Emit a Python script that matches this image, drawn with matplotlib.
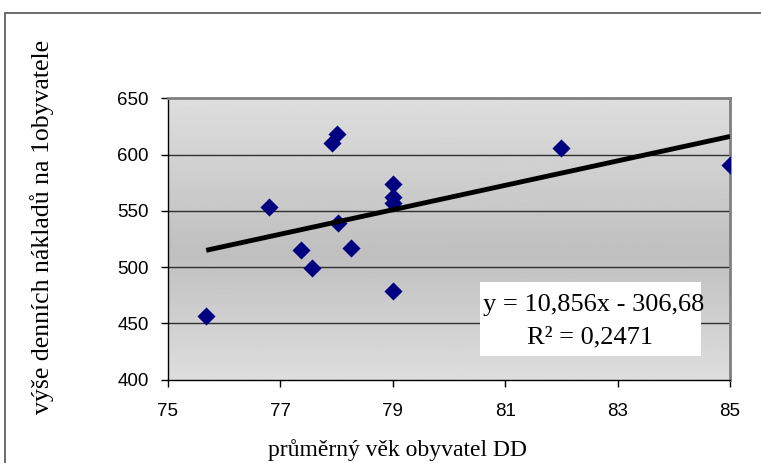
import matplotlib
matplotlib.use('Agg')
import matplotlib.pyplot as plt
import numpy as np
from matplotlib.patches import Rectangle

# data
vek = [75.68, 76.80, 77.36, 77.56, 77.92, 78.00, 78.02, 78.25,
       79.00, 79.00, 79.00, 79.00, 82.00, 85.00]
naklady = [456.5, 553.2, 515.5, 499.5, 610.6, 618.0, 539.5, 517.0,
           574.0, 562.6, 557.2, 478.8, 605.6, 590.7]
slope = 10.856
intercept = -306.68
eq_text = 'y = 10,856x - 306,68'
r2_text = 'R² = 0,2471'
x_ticks = [75, 77, 79, 81, 83, 85]
y_ticks = [400, 450, 500, 550, 600, 650]

fig = plt.figure(figsize=(7.61, 4.63), dpi=100)
ax = fig.add_axes([168/761, 83.4/463, 562/761, 281.3/463])

# outer chart border
fig.patches.append(Rectangle((5/761, -0.1), 1.2, (463-13)/463 + 0.1,
                             transform=fig.transFigure, fill=False,
                             edgecolor='#606060', linewidth=1.3))

# gradient background of plot area
grad = np.interp(np.linspace(0, 1, 256), [0, 0.55, 1], [0.87, 0.75, 0.87])
ax.imshow(grad[:, None], cmap='gray', vmin=0, vmax=1, aspect='auto',
          extent=[75, 85, 400, 650], zorder=0)

for yv in y_ticks[1:-1]:
    ax.axhline(yv, color='#303030', linewidth=1, zorder=1)

ax.scatter(vek, naklady, marker='D', s=85, color='#000080', zorder=3,
           linewidths=0)

xs = np.array([min(vek), max(vek)])
ax.plot(xs, slope * xs + intercept, color='black', linewidth=3.5,
        zorder=4, solid_capstyle='butt')

ax.set_xlim(75, 85)
ax.set_ylim(400, 650)
ax.set_xticks(x_ticks)
ax.set_yticks(y_ticks)
ax.tick_params(labelsize=13.5, length=5, width=1, direction='out')
ax.tick_params(axis='x', pad=12)
ax.tick_params(axis='y', pad=9)
for lab in ax.get_xticklabels() + ax.get_yticklabels():
    lab.set_family('Liberation Sans')

ax.spines['top'].set_color('#808080')
ax.spines['top'].set_linewidth(2)
ax.spines['right'].set_color('#808080')
ax.spines['right'].set_linewidth(2)
ax.spines['left'].set_linewidth(1)
ax.spines['bottom'].set_linewidth(1)

fig.text(398/761, 1 - 450/463, 'průměrný věk obyvatel DD', ha='center',
         va='center', fontsize=17, family='Liberation Serif')
fig.text(42/761, 1 - 227/463, 'výše denních nákladů na 1obyvatele',
         ha='center', va='center', rotation=90, fontsize=18.5,
         family='Liberation Serif')

fig.patches.append(Rectangle((480/761, 1 - 356/463), 221/761, 74/463,
                             transform=fig.transFigure, facecolor='white',
                             edgecolor='none', zorder=5))
fig.text(594/761, 1 - 305/463, eq_text, ha='center', va='center',
         fontsize=19, family='Liberation Serif', zorder=6)
fig.text(590/761, 1 - 337/463, r2_text, ha='center', va='center',
         fontsize=19, family='Liberation Serif', zorder=6)

fig.savefig('out.png', dpi=100)
